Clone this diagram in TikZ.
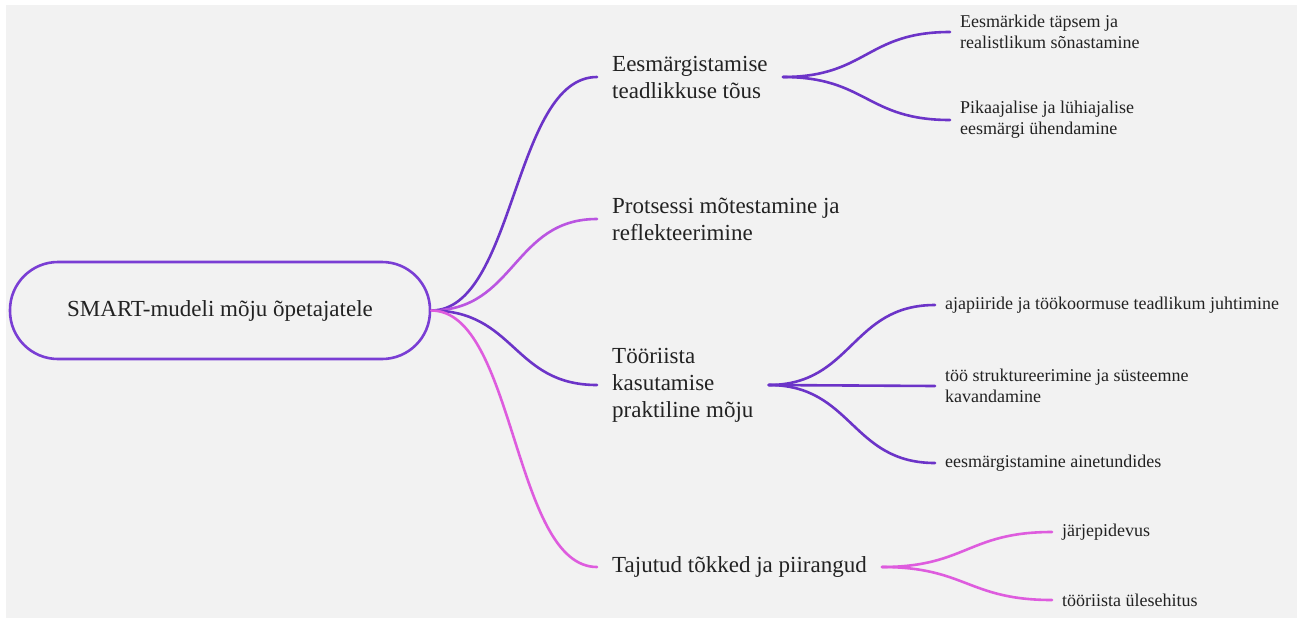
\documentclass[tikz,border=0pt]{standalone}
\usepackage{fontspec}
\setmainfont{Liberation Serif}
\begin{document}
\begin{tikzpicture}[x=1pt,y=-1pt,
  link/.style={line width=2.6pt,line cap=round},
  main/.style={draw=rootColor,line width=2.6pt,rounded corners=48pt,minimum width=420pt,minimum height=97pt,text=textColor,font=\fontsize{23}{27}\selectfont},
  topic/.style={anchor=west,align=left,inner xsep=15pt,inner ysep=0pt,text=textColor,font=\fontsize{23}{27}\selectfont},
  leaf/.style={anchor=west,align=left,inner xsep=10pt,inner ysep=0pt,text=textColor,font=\fontsize{18}{21}\selectfont}]
\definecolor{bgColor}{RGB}{242,242,242}
\definecolor{textColor}{RGB}{34,34,34}
\definecolor{rootColor}{RGB}{122,62,212}
\definecolor{colA}{RGB}{108,52,200}
\definecolor{colB}{RGB}{186,85,225}
\definecolor{colD}{RGB}{222,92,222}
\path[use as bounding box,fill=white] (0,0) rectangle (1302,622);
\path[fill=bgColor] (6,5) rectangle (1297,618);

% centre
\node[main] (root) at (220,310.5) {SMART-mudeli mõju õpetajatele};

% first level
\node[topic] (goal) at (597,77) {Eesmärgistamise\\teadlikkuse tõus};
\node[topic] (process) at (597,219) {Protsessi mõtestamine ja\\reflekteerimine};
\node[topic] (tool) at (597,385) {Tööriista\\kasutamise\\praktiline mõju};
\node[topic] (limits) at (597,567) {Tajutud tõkked ja piirangud};

% second level
\node[leaf] (goal1) at (950,32) {Eesmärkide täpsem ja\\realistlikum sõnastamine};
\node[leaf] (goal2) at (950,120) {Pikaajalise ja lühiajalise\\eesmärgi ühendamine};

\node[leaf] (tool1) at (935,305) {ajapiiride ja töökoormuse teadlikum juhtimine};
\node[leaf] (tool2) at (935,386) {töö struktureerimine ja süsteemne\\kavandamine};
\node[leaf] (tool3) at (935,463) {eesmärgistamine ainetundides};

\node[leaf] (limits1) at (1052,532) {järjepidevus};
\node[leaf] (limits2) at (1052,600) {tööriista ülesehitus};

% connectors
\draw[link,draw=colA] (root.east) .. controls +(84,0) and +(-84,0) .. (goal.west);
\draw[link,draw=colB] (root.east) .. controls +(84,0) and +(-84,0) .. (process.west);
\draw[link,draw=colA] (root.east) .. controls +(84,0) and +(-84,0) .. (tool.west);
\draw[link,draw=colD] (root.east) .. controls +(84,0) and +(-84,0) .. (limits.west);

\foreach \leafname in {goal1,goal2}
  \draw[link,draw=colA] (goal.east) .. controls +(84,0) and +(-84,0) .. (\leafname.west);
\foreach \leafname in {tool1,tool2,tool3}
  \draw[link,draw=colA] (tool.east) .. controls +(84,0) and +(-84,0) .. (\leafname.west);
\foreach \leafname in {limits1,limits2}
  \draw[link,draw=colD] (limits.east) .. controls +(84,0) and +(-84,0) .. (\leafname.west);
\end{tikzpicture}
\end{document}
